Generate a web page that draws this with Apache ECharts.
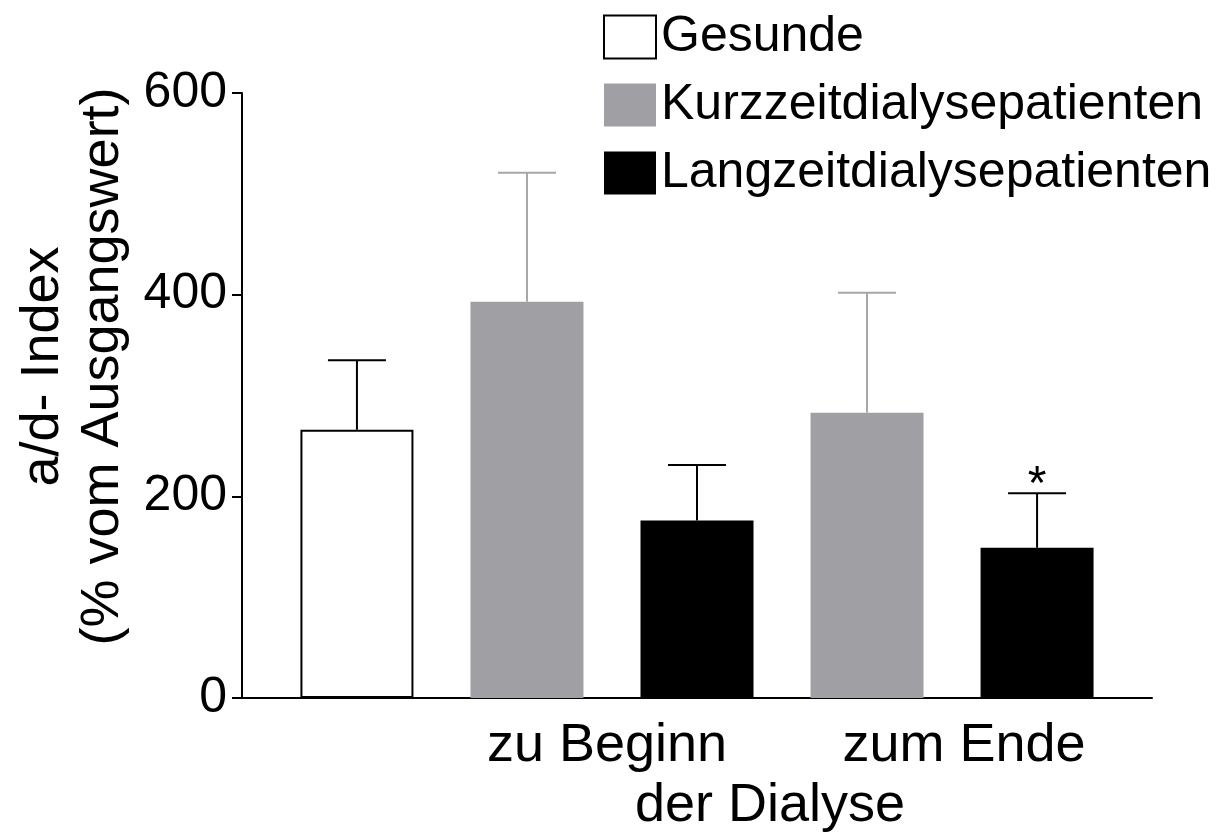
<!DOCTYPE html>
<html>
<head>
<meta charset="utf-8">
<title>a/d- Index</title>
<script src="https://cdn.jsdelivr.net/npm/echarts@6/dist/echarts.min.js"></script>
<style>
  html, body { margin: 0; padding: 0; background: #ffffff; }
  #chart { width: 1223px; height: 836px; }
</style>
</head>
<body>
<div id="chart"></div>
<script>
// Groups shown in the legend
const groups = ['Gesunde', 'Kurzzeitdialysepatienten', 'Langzeitdialysepatienten'];
// Bar slots from left to right: which group each bar belongs to
const slotGroup = [0, 1, 2, 1, 2];
// Mean a/d-index (% of baseline) per bar
const slotMean = [266, 393, 176, 283, 149];
// Upper end of the error bar (mean + SD) per bar
const slotUpper = [335, 521, 231, 402, 203];
// Significance markers per bar
const slotNote = ['', '', '', '', '*'];
// Timepoint labels under the axis
const timeLabels = ['zu Beginn', 'zum Ende'];
const timeCaption = 'der Dialyse';
// Y-axis ticks
const yTicks = [0, 200, 400, 600];

const FONT = '"Liberation Sans", Arial, Helvetica, sans-serif';
const fillColors = ['#ffffff', '#a09fa4', '#000000'];
const borderColors = ['#000000', '#a09fa4', '#000000'];
const errColors = ['#000000', '#a6a6aa', '#000000'];

const barSeries = groups.map(function (name, g) {
  const data = [];
  slotGroup.forEach(function (grp, i) {
    if (grp === g) data.push([i, slotMean[i]]);
  });
  return {
    name: name,
    type: 'bar',
    data: data,
    barWidth: 113,
    barGap: '-100%',
    itemStyle: {
      color: fillColors[g],
      borderColor: borderColors[g],
      borderWidth: g === 0 ? 2 : 0
    },
    emphasis: { disabled: true },
    z: 2
  };
});

const errorData = slotMean.map(function (m, i) {
  return [i, m, slotUpper[i], slotGroup[i]];
});

const errorSeries = {
  type: 'custom',
  name: 'error',
  data: errorData,
  encode: { x: 0, y: [1, 2] },
  z: 3,
  silent: true,
  renderItem: function (params, api) {
    const x = api.value(0);
    const base = api.coord([x, api.value(1)]);
    const top = api.coord([x, api.value(2)]);
    const color = errColors[api.value(3)];
    const half = 29;
    const children = [
      { type: 'line', shape: { x1: base[0], y1: base[1], x2: top[0], y2: top[1] },
        style: { stroke: color, lineWidth: 2 } },
      { type: 'line', shape: { x1: top[0] - half, y1: top[1], x2: top[0] + half, y2: top[1] },
        style: { stroke: color, lineWidth: 2 } }
    ];
    const note = slotNote[params.dataIndex];
    if (note) {
      children.push({
        type: 'text',
        style: { text: note, x: top[0], y: top[1] - 8, fill: '#000',
          font: '48px ' + FONT, align: 'center', verticalAlign: 'middle' }
      });
    }
    return { type: 'group', children: children };
  }
};

const chart = echarts.init(document.getElementById('chart'), null, { renderer: 'canvas' });

chart.setOption({
  animation: false,
  backgroundColor: '#ffffff',
  textStyle: { fontFamily: FONT },
  grid: { left: 242, right: 71, top: 93, bottom: 138 },
  legend: {
    data: groups,
    orient: 'vertical',
    left: 603,
    top: 12,
    padding: 0,
    itemWidth: 52,
    itemHeight: 43,
    itemGap: 18,
    icon: 'rect',
    selectedMode: false,
    textStyle: { fontSize: 50, color: '#000', fontFamily: FONT, lineHeight: 50 }
  },
  xAxis: {
    type: 'value',
    min: -0.676,
    max: 4.676,
    axisLine: { show: true, onZero: false, lineStyle: { color: '#000', width: 2 } },
    axisTick: { show: false },
    axisLabel: { show: false },
    splitLine: { show: false }
  },
  yAxis: {
    type: 'value',
    min: yTicks[0],
    max: yTicks[yTicks.length - 1],
    interval: yTicks[1] - yTicks[0],
    name: 'a/d- Index\n(% vom Ausgangswert)',
    nameLocation: 'middle',
    nameRotate: 90,
    nameGap: 108,
    nameTextStyle: { fontSize: 54, color: '#000', lineHeight: 60, fontFamily: FONT, padding: [0, 0, 0, 58] },
    axisLine: { show: true, onZero: false, lineStyle: { color: '#000', width: 2 } },
    axisTick: { show: true, length: 10, lineStyle: { color: '#000', width: 2 } },
    axisLabel: { fontSize: 50, color: '#000', margin: 15, fontFamily: FONT },
    splitLine: { show: false }
  },
  series: barSeries.concat([errorSeries])
});

// Timepoint captions beneath the grouped bars
const beginX = (chart.convertToPixel({ xAxisIndex: 0 }, 1) + chart.convertToPixel({ xAxisIndex: 0 }, 2)) / 2;
const endX = (chart.convertToPixel({ xAxisIndex: 0 }, 3) + chart.convertToPixel({ xAxisIndex: 0 }, 4)) / 2;
const axisY = chart.convertToPixel({ yAxisIndex: 0 }, 0);
const captionFont = '54px ' + FONT;

chart.setOption({
  graphic: [
    { type: 'text', x: beginX - 5, y: axisY + 48,
      style: { text: timeLabels[0], font: captionFont, fill: '#000', align: 'center', verticalAlign: 'middle' } },
    { type: 'text', x: endX + 12, y: axisY + 48,
      style: { text: timeLabels[1], font: captionFont, fill: '#000', align: 'center', verticalAlign: 'middle' } },
    { type: 'text', x: (beginX + endX) / 2 - 12, y: axisY + 108,
      style: { text: timeCaption, font: captionFont, fill: '#000', align: 'center', verticalAlign: 'middle' } }
  ]
});
</script>
</body>
</html>
